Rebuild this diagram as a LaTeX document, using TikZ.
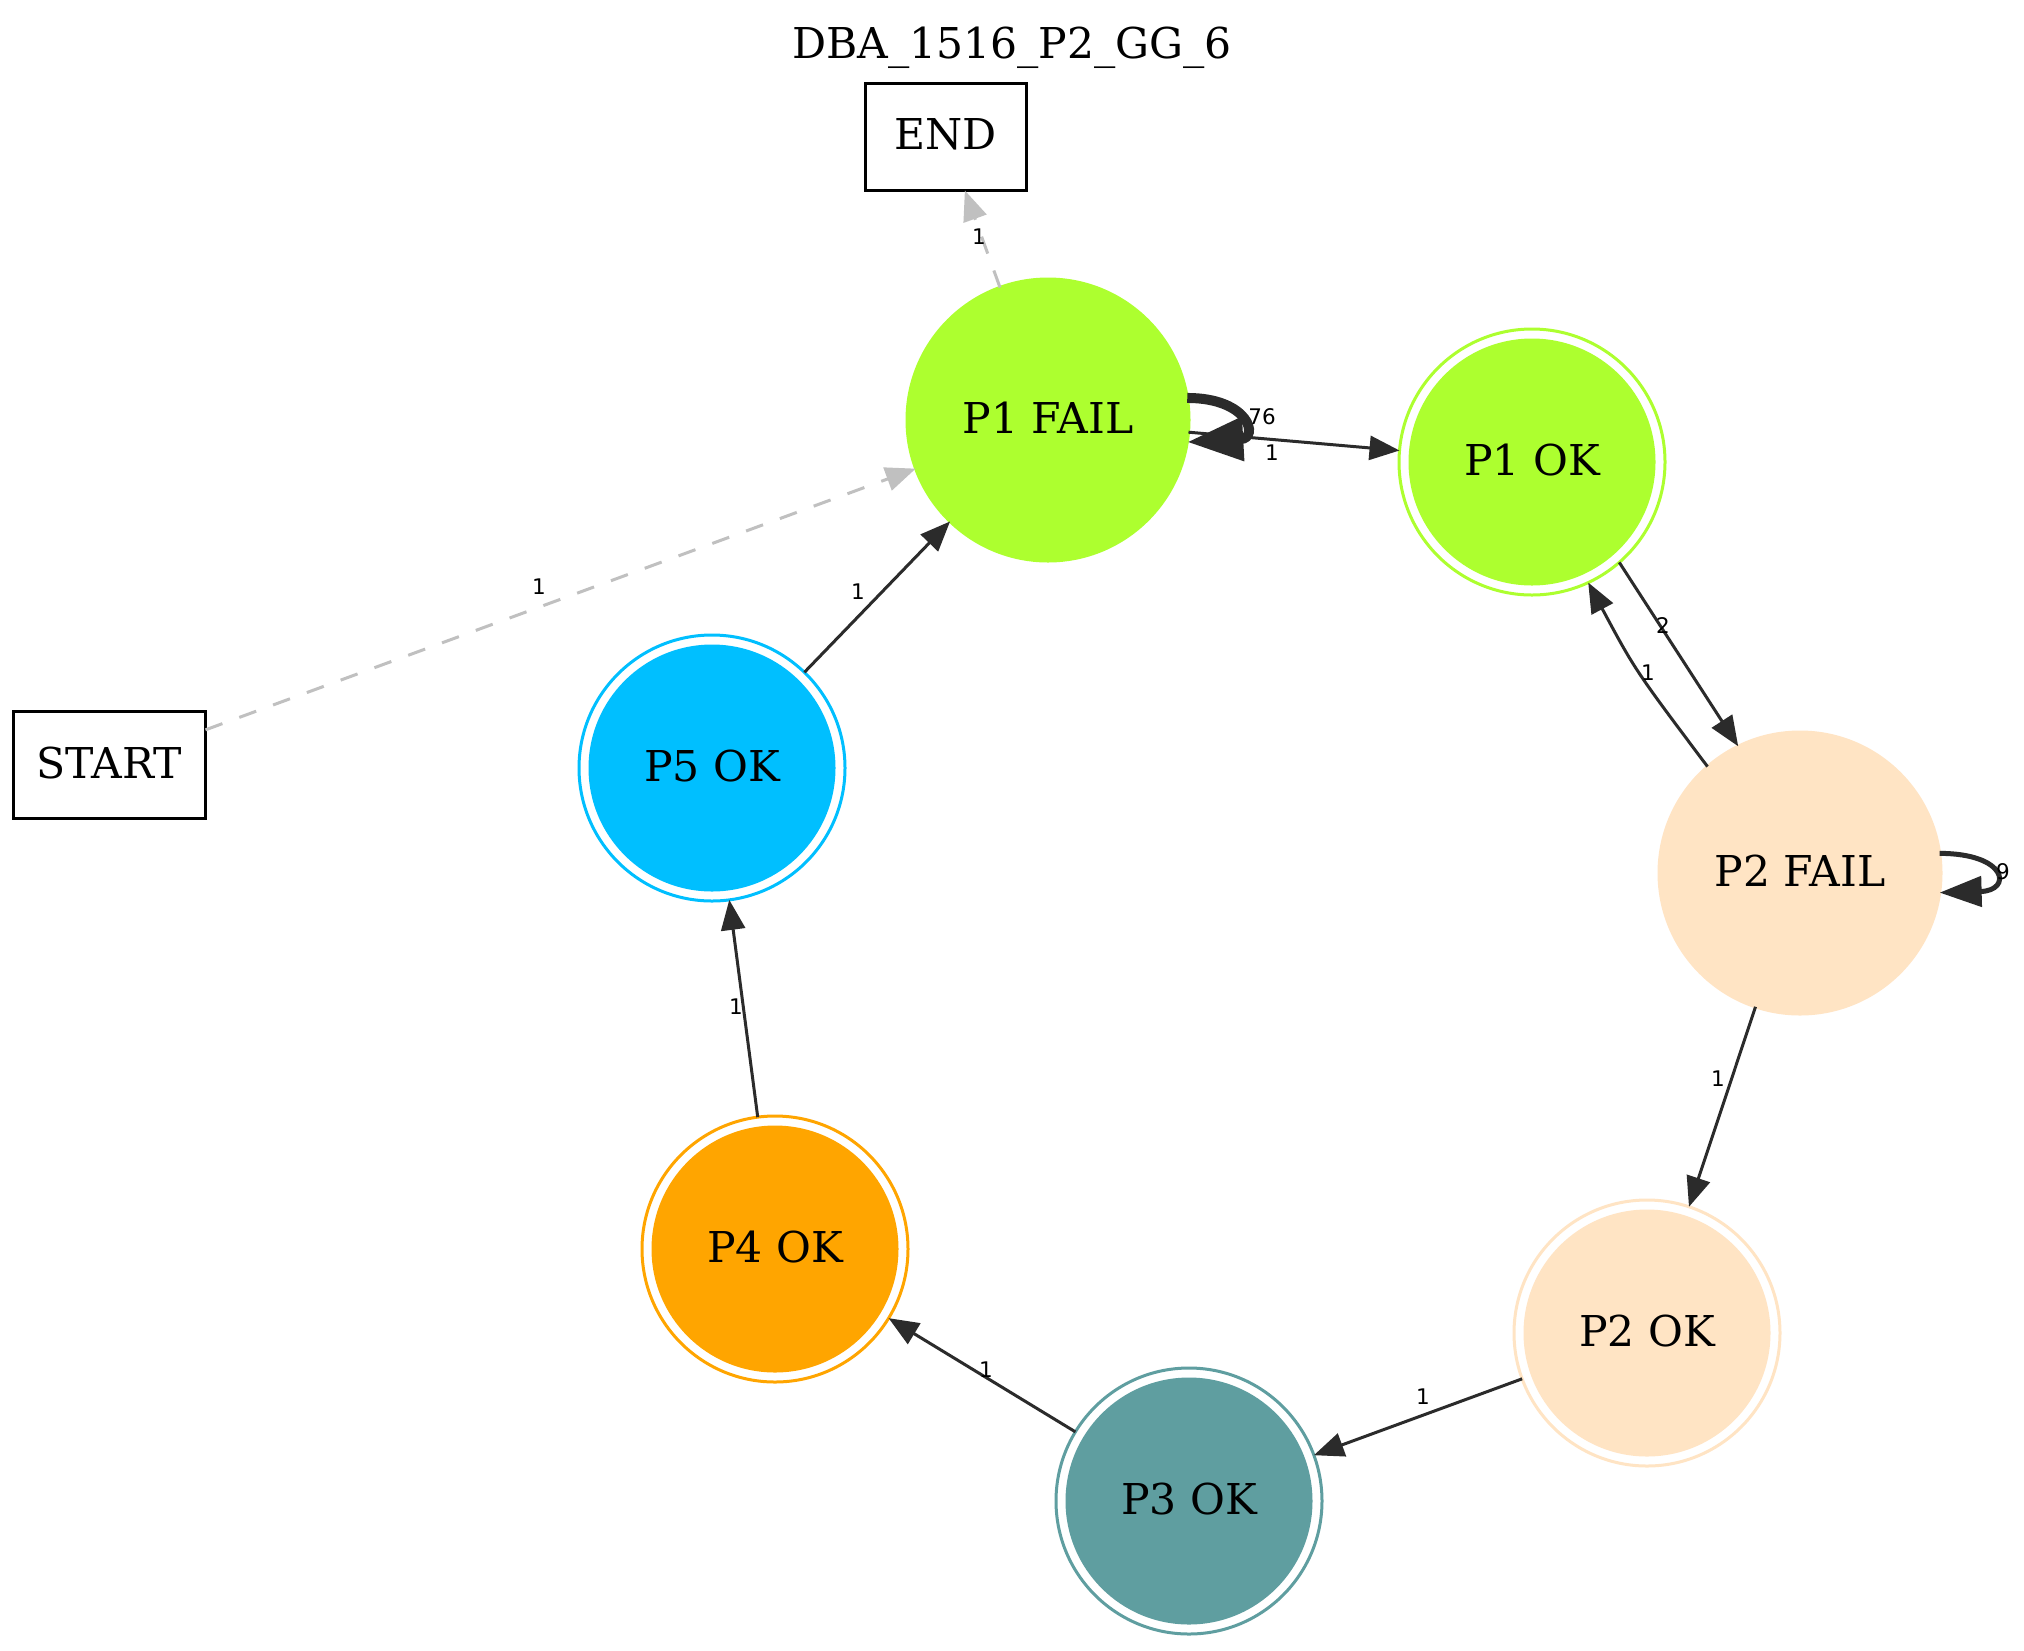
\documentclass[tikz,border=0pt]{standalone}
\usepackage{fontspec}
\setmainfont{DejaVu Serif}
\newfontfamily\edgefont{DejaVu Sans}
\usetikzlibrary{arrows.meta}
\definecolor{cgy}{HTML}{ADFF2F}
\definecolor{cbq}{HTML}{FFE4C4}
\definecolor{ccb}{HTML}{5F9EA0}
\definecolor{cor}{HTML}{FFA500}
\definecolor{cds}{HTML}{00BFFF}
\definecolor{cedge}{HTML}{2B2B2B}
\definecolor{cgray}{HTML}{C0C0C0}
\begin{document}
\begin{tikzpicture}[x=0.5pt,y=-0.5pt,
  every node/.style={inner sep=0pt,outer sep=0pt},
  nodefont/.style={font=\fontsize{21.25}{25}\selectfont, text depth=0.25em},
  failnode/.style={nodefont, circle, fill=#1, draw=#1, line width=1.5pt, minimum size=141pt},
  oknode/.style={nodefont, circle, draw=#1, line width=1.5pt, minimum size=133pt,
     path picture={\fill[#1] (path picture bounding box.center) circle (61.75pt);}},
  boxnode/.style={nodefont, rectangle, draw=black, line width=1.5pt, minimum width=#1, minimum height=53.5pt},
  lbl/.style={font=\edgefont\fontsize{10.75}{13}\selectfont, text=black},
  edge/.style={draw=cedge, line width=1.5pt, -{Triangle[length=15pt,width=12pt]}},
  gedge/.style={draw=cgray, line width=1.5pt, dash pattern=on 9pt off 9pt, -{Triangle[length=15pt,width=12pt]}}
]
\fill[white] (0,0) rectangle (2024,1650);
\useasboundingbox (0,0) rectangle (2024,1650);

% title
\node[anchor=base, font=\fontsize{21.25}{25}\selectfont] (title) at (1012,58) {DBA\_1516\_P2\_GG\_6};

% nodes
\node[boxnode=80.5pt] (end) at (945.5,137) {END};
\node[boxnode=96pt] (start) at (109.5,765) {START};
\node[failnode=cgy] (p1f) at (1048,420) {P1 FAIL};
\node[oknode=cgy] (p1ok) at (1532,462) {P1 OK};
\node[failnode=cbq] (p2f) at (1800,873) {P2 FAIL};
\node[oknode=cbq] (p2ok) at (1647,1333) {P2 OK};
\node[oknode=ccb] (p3ok) at (1189,1501) {P3 OK};
\node[oknode=cor] (p4ok) at (775,1249) {P4 OK};
\node[oknode=cds] (p5ok) at (712,768) {P5 OK};

% edges
\draw[gedge] (start) -- (p1f);
\draw[gedge] (p1f) -- (end);
\draw[edge, line width=5pt, -{Triangle[length=28pt,width=21pt]}] (p1f.9) .. controls +(62,0) and +(72,-4) .. (p1f.-9);
\draw[edge] (p1f) -- (p1ok);
\draw[edge] (p1ok.-49) -- (p2f.116);
\draw[edge] (p2f.131) .. controls (1635,670) .. (p1ok.-65);
\draw[edge, line width=2.5pt, -{Triangle[length=21pt,width=15pt]}] (p2f.8) .. controls +(68,0) and +(73,-2) .. (p2f.-8);
\draw[edge] (p2f) -- (p2ok);
\draw[edge] (p2ok) -- (p3ok);
\draw[edge] (p3ok) -- (p4ok);
\draw[edge] (p4ok) -- (p5ok);
\draw[edge] (p5ok) -- (p1f);

% edge labels
\node[lbl] (l1) at (539,587) {1};
\node[lbl] (l2) at (979,237) {1};
\node[lbl] (l3) at (1262,417) {76};
\node[lbl] (l4) at (1272,453) {1};
\node[lbl] (l5) at (1663,626) {2};
\node[lbl] (l6) at (1648,673) {1};
\node[lbl] (l7) at (2003,872) {9};
\node[lbl] (l8) at (1718,1079) {1};
\node[lbl] (l9) at (1423,1397) {1};
\node[lbl] (l10) at (986,1370) {1};
\node[lbl] (l11) at (736,1007) {1};
\node[lbl] (l12) at (858,592) {1};
\end{tikzpicture}
\end{document}
